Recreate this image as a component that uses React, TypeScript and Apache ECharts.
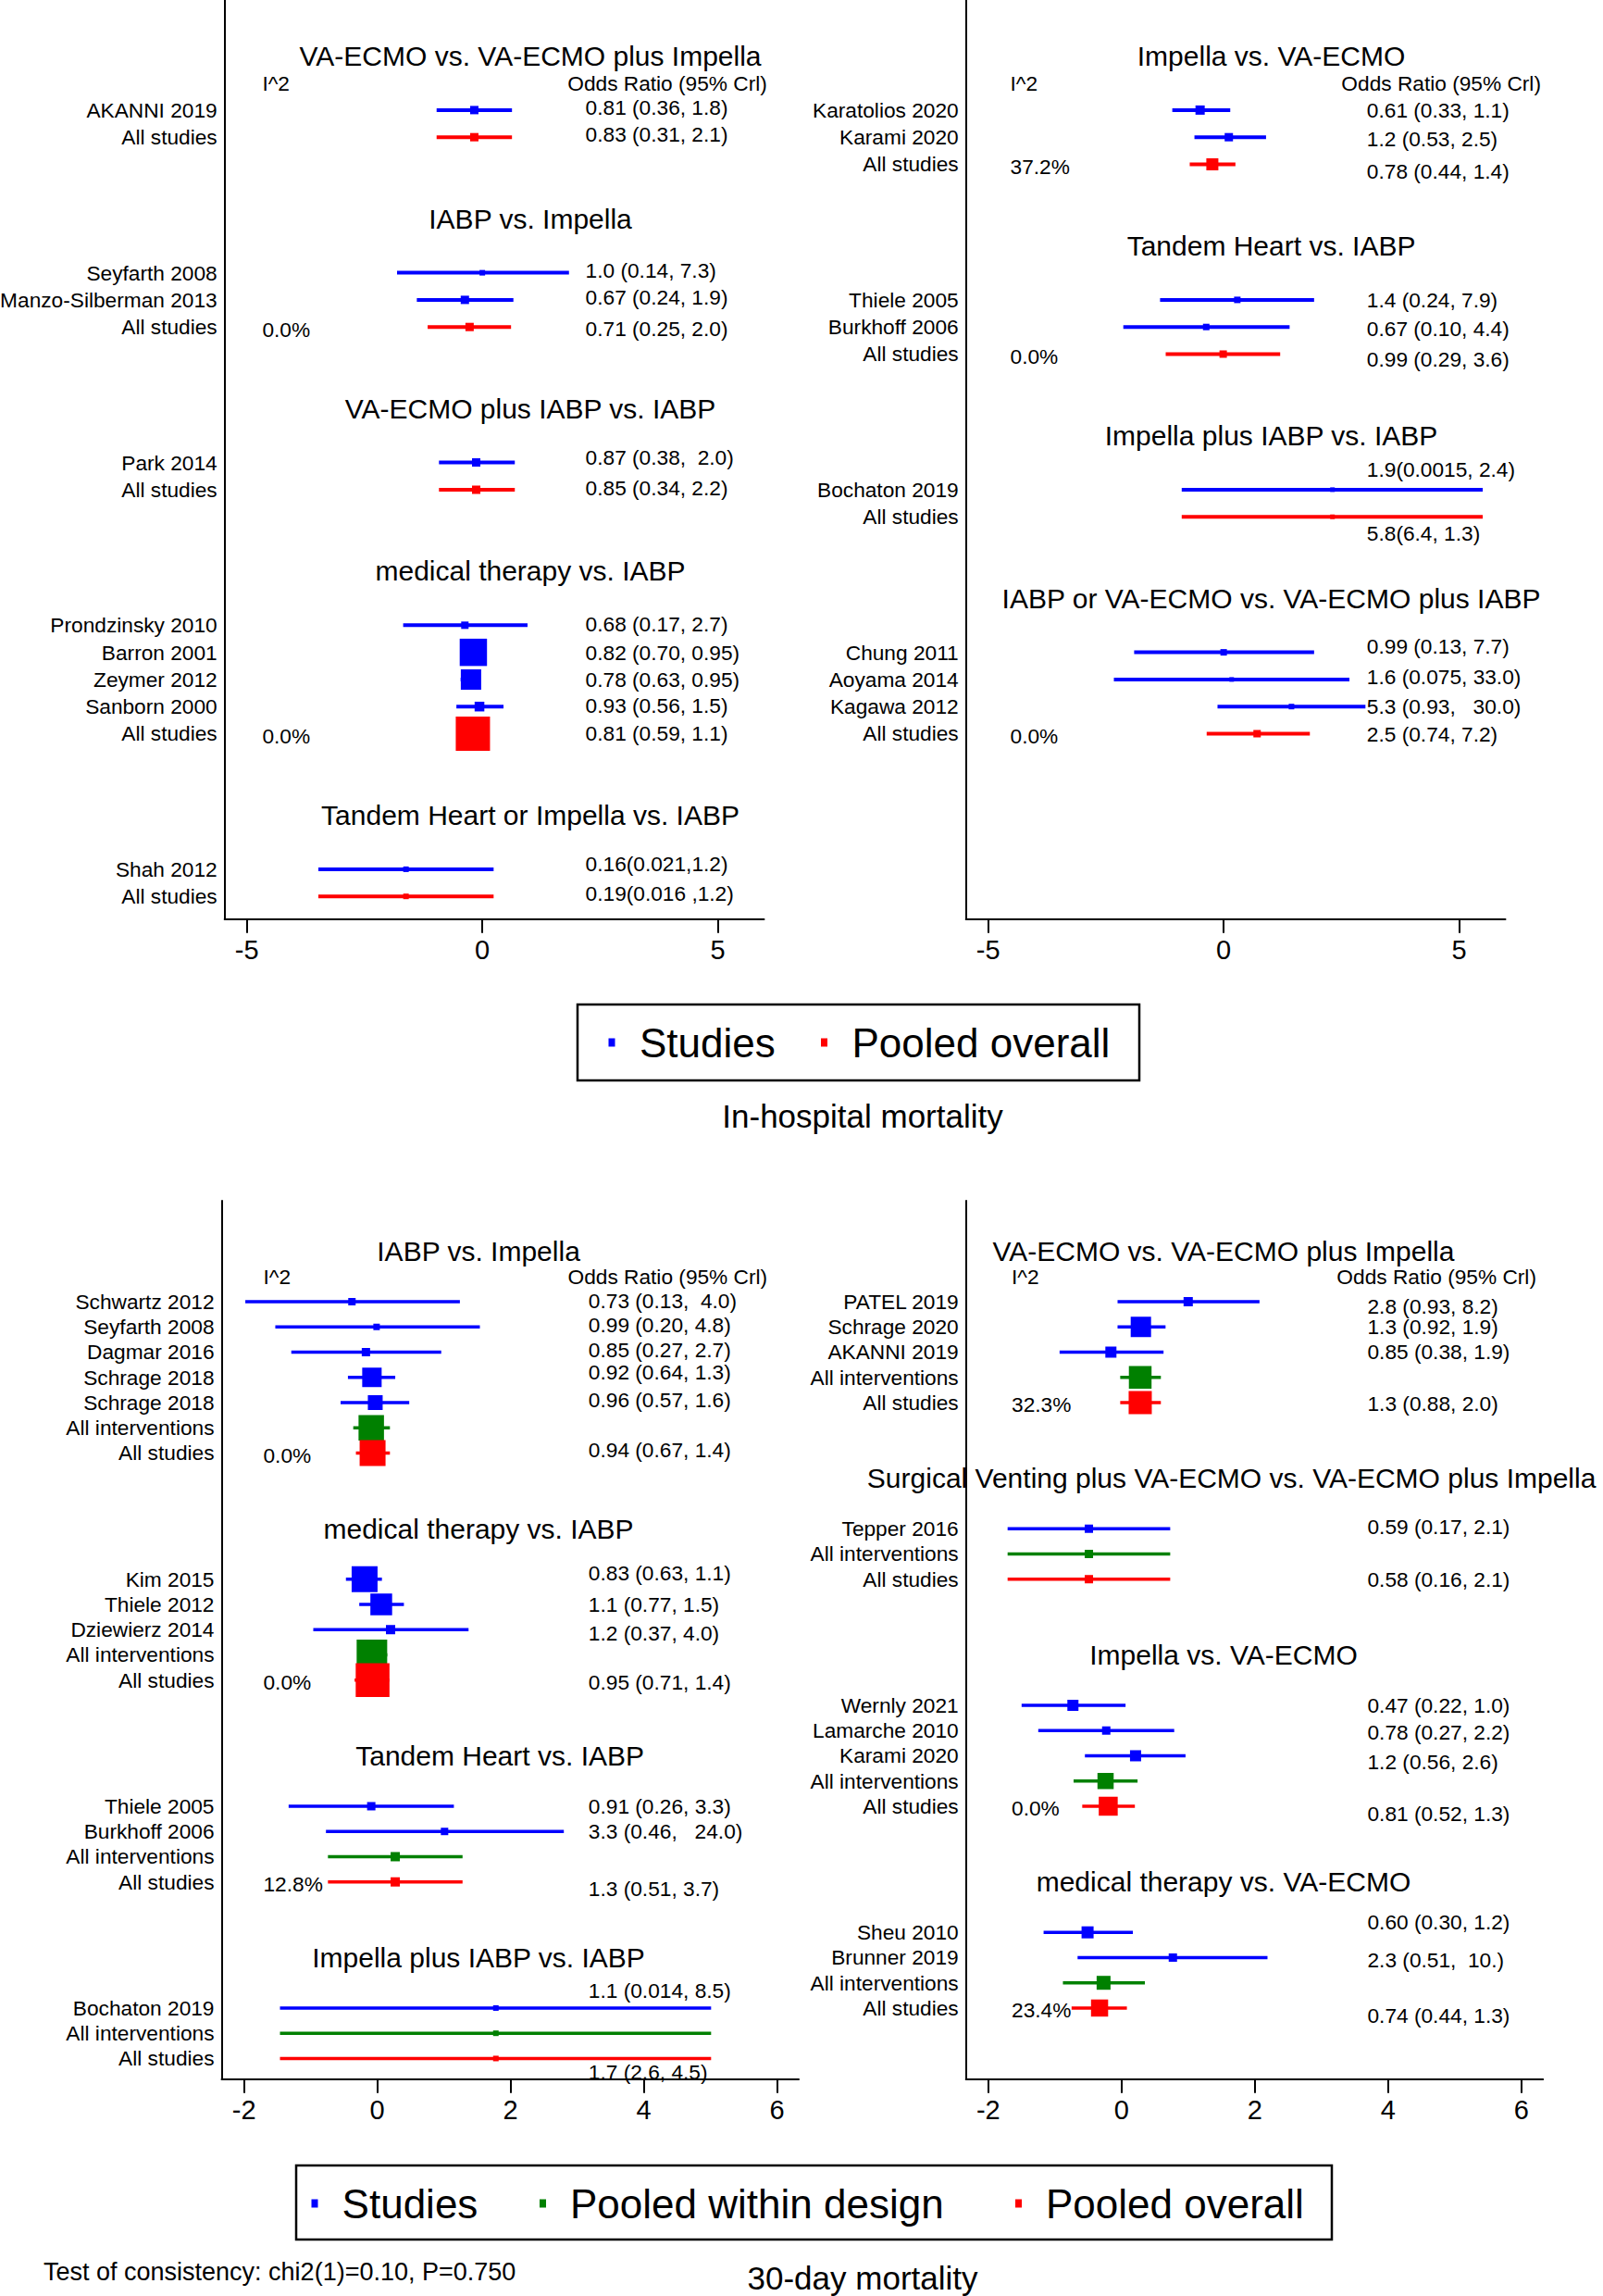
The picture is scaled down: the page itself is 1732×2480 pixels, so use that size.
import React, { useEffect, useRef } from "react";
import * as echarts from "echarts";

const FONT_FAMILY = "'Liberation Sans', Arial, Helvetica, sans-serif";
const KIND_COLOR: Record<string, string> = { S: "#0000ff", W: "#008000", O: "#ff0000" };
const BOX_UNIT = 1;

// ---------- In-hospital mortality, left panel ----------
const A_TITLES = [
  "VA-ECMO vs. VA-ECMO plus Impella",
  "IABP vs. Impella",
  "VA-ECMO plus IABP vs. IABP",
  "medical therapy vs. IABP",
  "Tandem Heart or Impella vs. IABP",
];
const A_TITLE_SLOTS = [0, 6, 13, 19, 28];
const A_TITLE_X = [1.02, 1.02, 1.02, 1.02, 1.02];
const A_LABELS = [
  "AKANNI 2019", "All studies",
  "Seyfarth 2008", "Manzo-Silberman 2013", "All studies",
  "Park 2014", "All studies",
  "Prondzinsky 2010", "Barron 2001", "Zeymer 2012", "Sanborn 2000", "All studies",
  "Shah 2012", "All studies",
];
const A_SLOTS = [2, 3, 8, 9, 10, 15, 16, 21, 22, 23, 24, 25, 30, 31];
const A_KIND = ["S", "O", "S", "S", "O", "S", "O", "S", "S", "S", "S", "O", "S", "O"];
const A_EST = [-0.17, -0.17, 0.0, -0.37, -0.27, -0.13, -0.13, -0.37, -0.19, -0.24, -0.06, -0.2, -1.62, -1.62];
const A_LO = [-0.97, -0.97, -1.81, -1.39, -1.16, -0.92, -0.92, -1.68, -0.36, -0.46, -0.55, -0.53, -3.48, -3.48];
const A_HI = [0.63, 0.63, 1.84, 0.66, 0.61, 0.69, 0.69, 0.96, -0.05, -0.05, 0.45, 0.1, 0.24, 0.24];
const A_WEIGHT = [9, 9, 6, 9, 9, 9, 9, 8, 29.5, 22, 10.5, 37, 6, 6];
const A_OR = [
  "0.81 (0.36, 1.8)", "0.83 (0.31, 2.1)",
  "1.0 (0.14, 7.3)", "0.67 (0.24, 1.9)", "0.71 (0.25, 2.0)",
  "0.87 (0.38,  2.0)", "0.85 (0.34, 2.2)",
  "0.68 (0.17, 2.7)", "0.82 (0.70, 0.95)", "0.78 (0.63, 0.95)", "0.93 (0.56, 1.5)", "0.81 (0.59, 1.1)",
  "0.16(0.021,1.2)", "0.19(0.016 ,1.2)",
];
const A_OR_SLOT = [1.9, 2.9, 7.9, 8.9, 10.05, 14.8, 15.95, 20.95, 22, 23, 23.95, 25, 29.8, 30.9];
const A_I2 = ["", "", "", "", "0.0%", "", "", "", "", "", "", "0.0%", "", ""];

// ---------- In-hospital mortality, right panel ----------
const B_TITLES = [
  "Impella vs. VA-ECMO",
  "Tandem Heart vs. IABP",
  "Impella plus IABP vs. IABP",
  "IABP or VA-ECMO vs. VA-ECMO plus IABP",
];
const B_TITLE_SLOTS = [0, 7, 14, 20];
const B_TITLE_X = [1.01, 1.01, 1.01, 1.01];
const B_LABELS = [
  "Karatolios 2020", "Karami 2020", "All studies",
  "Thiele 2005", "Burkhoff 2006", "All studies",
  "Bochaton 2019", "All studies",
  "Chung 2011", "Aoyama 2014", "Kagawa 2012", "All studies",
];
const B_SLOTS = [2, 3, 4, 9, 10, 11, 16, 17, 22, 23, 24, 25];
const B_KIND = ["S", "S", "O", "S", "S", "O", "S", "O", "S", "S", "S", "O"];
const B_EST = [-0.5, 0.11, -0.24, 0.29, -0.37, -0.01, 2.31, 2.31, 0.0, 0.17, 1.44, 0.71];
const B_LO = [-1.09, -0.62, -0.72, -1.35, -2.13, -1.23, -0.89, -0.89, -1.9, -2.33, -0.13, -0.36];
const B_HI = [0.14, 0.9, 0.25, 1.92, 1.4, 1.2, 5.5, 5.5, 1.92, 2.67, 3.01, 1.83];
const B_WEIGHT = [10, 9, 13, 7, 7, 8, 5, 5, 7, 5, 6, 8];
const B_OR = [
  "0.61 (0.33, 1.1)", "1.2 (0.53, 2.5)", "0.78 (0.44, 1.4)",
  "1.4 (0.24, 7.9)", "0.67 (0.10, 4.4)", "0.99 (0.29, 3.6)",
  "1.9(0.0015, 2.4)", "5.8(6.4, 1.3)",
  "0.99 (0.13, 7.7)", "1.6 (0.075, 33.0)", "5.3 (0.93,   30.0)", "2.5 (0.74, 7.2)",
];
const B_OR_SLOT = [2, 3.05, 4.25, 9, 10.05, 11.18, 15.25, 17.6, 21.76, 22.9, 24, 25.03];
const B_I2 = ["", "", "37.2%", "", "", "0.0%", "", "", "", "", "", "0.0%"];

// ---------- 30-day mortality, left panel ----------
const C_TITLES = [
  "IABP vs. Impella",
  "medical therapy vs. IABP",
  "Tandem Heart vs. IABP",
  "Impella plus IABP vs. IABP",
];
const C_TITLE_SLOTS = [0, 11, 20, 28];
const C_TITLE_X = [1.52, 1.52, 1.84, 1.52];
const C_LABELS = [
  "Schwartz 2012", "Seyfarth 2008", "Dagmar 2016", "Schrage 2018", "Schrage 2018", "All interventions", "All studies",
  "Kim 2015", "Thiele 2012", "Dziewierz 2014", "All interventions", "All studies",
  "Thiele 2005", "Burkhoff 2006", "All interventions", "All studies",
  "Bochaton 2019", "All interventions", "All studies",
];
const C_SLOTS = [2, 3, 4, 5, 6, 7, 8, 13, 14, 15, 16, 17, 22, 23, 24, 25, 30, 31, 32];
const C_KIND = ["S", "S", "S", "S", "S", "W", "O", "S", "S", "S", "W", "O", "S", "S", "W", "O", "S", "W", "O"];
const C_EST = [-0.38, -0.01, -0.17, -0.08, -0.03, -0.09, -0.07, -0.19, 0.06, 0.2, -0.08, -0.07, -0.09, 1.01, 0.27, 0.27, 1.78, 1.78, 1.78];
const C_LO = [-1.98, -1.53, -1.29, -0.44, -0.55, -0.36, -0.32, -0.47, -0.27, -0.96, -0.3, -0.34, -1.33, -0.77, -0.74, -0.74, -1.46, -1.46, -1.46];
const C_HI = [1.24, 1.54, 0.96, 0.27, 0.48, 0.19, 0.19, 0.07, 0.4, 1.37, 0.15, 0.18, 1.15, 2.8, 1.28, 1.28, 5.01, 5.01, 5.01];
const C_WEIGHT = [8, 7, 9, 21, 16, 27.5, 28, 28, 23.5, 10, 33, 36.5, 9, 8, 10, 10, 6, 6, 6];
const C_OR = [
  "0.73 (0.13,  4.0)", "0.99 (0.20, 4.8)", "0.85 (0.27, 2.7)", "0.92 (0.64, 1.3)", "0.96 (0.57, 1.6)", "", "0.94 (0.67, 1.4)",
  "0.83 (0.63, 1.1)", "1.1 (0.77, 1.5)", "1.2 (0.37, 4.0)", "", "0.95 (0.71, 1.4)",
  "0.91 (0.26, 3.3)", "3.3 (0.46,   24.0)", "", "1.3 (0.51, 3.7)",
  "1.1 (0.014, 8.5)", "", "1.7 (2.6, 4.5)",
];
const C_OR_SLOT = [1.95, 2.9, 3.9, 4.8, 5.9, 7, 7.87, 12.75, 14, 15.15, 16, 17.1, 22, 23, 24, 25.27, 29.3, 31, 32.55];
const C_I2 = ["", "", "", "", "", "", "0.0%", "", "", "", "", "0.0%", "", "", "", "12.8%", "", "", ""];

// ---------- 30-day mortality, right panel ----------
const D_TITLES = [
  "VA-ECMO vs. VA-ECMO plus Impella",
  "Surgical Venting plus VA-ECMO vs. VA-ECMO plus Impella",
  "Impella vs. VA-ECMO",
  "medical therapy vs. VA-ECMO",
];
const D_TITLE_SLOTS = [0, 9, 16, 25];
const D_TITLE_X = [1.53, 1.65, 1.53, 1.53];
const D_LABELS = [
  "PATEL 2019", "Schrage 2020", "AKANNI 2019", "All interventions", "All studies",
  "Tepper 2016", "All interventions", "All studies",
  "Wernly 2021", "Lamarche 2010", "Karami 2020", "All interventions", "All studies",
  "Sheu 2010", "Brunner 2019", "All interventions", "All studies",
];
const D_SLOTS = [2, 3, 4, 5, 6, 11, 12, 13, 18, 19, 20, 21, 22, 27, 28, 29, 30];
const D_KIND = ["S", "S", "S", "W", "O", "S", "W", "O", "S", "S", "S", "W", "O", "S", "S", "W", "O"];
const D_EST = [1.0, 0.29, -0.16, 0.28, 0.28, -0.49, -0.49, -0.49, -0.73, -0.23, 0.21, -0.24, -0.2, -0.51, 0.77, -0.27, -0.33];
const D_LO = [-0.06, -0.06, -0.93, -0.02, -0.02, -1.71, -1.71, -1.71, -1.5, -1.25, -0.55, -0.72, -0.59, -1.17, -0.66, -0.88, -0.75];
const D_HI = [2.07, 0.66, 0.63, 0.59, 0.59, 0.73, 0.73, 0.73, 0.06, 0.79, 0.96, 0.24, 0.2, 0.17, 2.19, 0.35, 0.08];
const D_WEIGHT = [10, 22, 12, 24.5, 25, 9, 9, 9, 12, 9, 12, 17.5, 20.5, 13, 9, 15, 18.5];
const D_OR = [
  "2.8 (0.93, 8.2)", "1.3 (0.92, 1.9)", "0.85 (0.38, 1.9)", "", "1.3 (0.88, 2.0)",
  "0.59 (0.17, 2.1)", "", "0.58 (0.16, 2.1)",
  "0.47 (0.22, 1.0)", "0.78 (0.27, 2.2)", "1.2 (0.56, 2.6)", "", "0.81 (0.52, 1.3)",
  "0.60 (0.30, 1.2)", "2.3 (0.51,  10.)", "", "0.74 (0.44, 1.3)",
];
const D_OR_SLOT = [2.17, 3, 4, 5, 6.03, 10.9, 12, 13.02, 18, 19.08, 20.25, 21, 22.3, 26.6, 28.1, 29, 30.3];
const D_I2 = ["", "", "", "", "32.3%", "", "", "", "", "", "", "", "0.0%", "", "", "", "23.4%"];

const TOP_TICKS = [-5, 0, 5];
const BOTTOM_TICKS = [-2, 0, 2, 4, 6];
const HEADER_I2 = "I^2";
const HEADER_OR = "Odds Ratio (95% Crl)";

const PANELS = [
  {
    grid: { left: 242.7, top: 0, width: 582.8, height: 992.8 },
    xMin: -5.47, xMax: 5.98, ticks: TOP_TICKS, yMin: -2.06, yMax: 31.84, lw: 4,
    i2X: -4.67, orX: 2.19, oddsX: 1.81,
    titles: A_TITLES, titleSlots: A_TITLE_SLOTS, titleX: A_TITLE_X,
    labels: A_LABELS, slots: A_SLOTS, kind: A_KIND, est: A_EST, lo: A_LO, hi: A_HI,
    weight: A_WEIGHT, or: A_OR, orSlot: A_OR_SLOT, i2: A_I2,
  },
  {
    grid: { left: 1043.7, top: 0, width: 582.8, height: 992.8 },
    xMin: -5.47, xMax: 5.98, ticks: TOP_TICKS, yMin: -2.06, yMax: 31.84, lw: 4,
    i2X: -4.53, orX: 3.04, oddsX: 2.5,
    titles: B_TITLES, titleSlots: B_TITLE_SLOTS, titleX: B_TITLE_X,
    labels: B_LABELS, slots: B_SLOTS, kind: B_KIND, est: B_EST, lo: B_LO, hi: B_HI,
    weight: B_WEIGHT, or: B_OR, orSlot: B_OR_SLOT, i2: B_I2,
  },
  {
    grid: { left: 239.5, top: 1297, width: 623.5, height: 948.8 },
    xMin: -2.335, xMax: 6.325, ticks: BOTTOM_TICKS, yMin: -2.0, yMax: 32.82, lw: 3.5,
    i2X: -1.71, orX: 3.17, oddsX: 2.86,
    titles: C_TITLES, titleSlots: C_TITLE_SLOTS, titleX: C_TITLE_X,
    labels: C_LABELS, slots: C_SLOTS, kind: C_KIND, est: C_EST, lo: C_LO, hi: C_HI,
    weight: C_WEIGHT, or: C_OR, orSlot: C_OR_SLOT, i2: C_I2,
  },
  {
    grid: { left: 1043.7, top: 1297, width: 623.5, height: 948.8 },
    xMin: -2.335, xMax: 6.325, ticks: BOTTOM_TICKS, yMin: -2.0, yMax: 32.82, lw: 3.5,
    i2X: -1.65, orX: 3.69, oddsX: 3.23,
    titles: D_TITLES, titleSlots: D_TITLE_SLOTS, titleX: D_TITLE_X,
    labels: D_LABELS, slots: D_SLOTS, kind: D_KIND, est: D_EST, lo: D_LO, hi: D_HI,
    weight: D_WEIGHT, or: D_OR, orSlot: D_OR_SLOT, i2: D_I2,
  },
];

const font = (size: number) => `${size}px ${FONT_FAMILY}`;

function textStyle(text: string, size: number, align: string, vAlign = "middle") {
  return {
    text,
    fill: "#000",
    font: font(size),
    align,
    verticalAlign: vAlign,
    textAlign: align,
    textVerticalAlign: vAlign,
  };
}

function forestSeries(p: any, i: number) {
  return {
    type: "custom",
    coordinateSystem: "cartesian2d",
    xAxisIndex: i,
    yAxisIndex: i,
    silent: true,
    clip: false,
    data: p.labels.map((_: string, k: number) => [p.est[k], p.slots[k], p.lo[k], p.hi[k], p.weight[k], k]),
    encode: { x: [0, 2, 3], y: 1 },
    renderItem: (_params: any, api: any) => {
      const k = api.value(5);
      const slot = api.value(1);
      const c = api.coord([api.value(0), slot]);
      const a = api.coord([api.value(2), slot]);
      const b = api.coord([api.value(3), slot]);
      const s = api.value(4) * BOX_UNIT;
      const color = KIND_COLOR[p.kind[k]];
      return {
        type: "group",
        children: [
          { type: "line", shape: { x1: a[0], y1: a[1], x2: b[0], y2: b[1] }, style: { stroke: color, lineWidth: p.lw } },
          { type: "rect", shape: { x: c[0] - s / 2, y: c[1] - s / 2, width: s, height: s }, style: { fill: color } },
        ],
      };
    },
  };
}

function textSeries(p: any, i: number) {
  const items: any[] = [];
  p.titles.forEach((t: string, k: number) =>
    items.push({ x: p.titleX[k], y: p.titleSlots[k], text: t, size: 30, align: "center", dx: 0 })
  );
  items.push({ x: p.i2X, y: 1.0, text: HEADER_I2, size: 22.7, align: "left", dx: 0 });
  items.push({ x: p.oddsX, y: 1.0, text: HEADER_OR, size: 22.7, align: "left", dx: 0 });
  p.labels.forEach((t: string, k: number) =>
    items.push({ x: p.xMin, y: p.slots[k], text: t, size: 22.7, align: "right", dx: -8 })
  );
  p.or.forEach((t: string, k: number) => {
    if (t) items.push({ x: p.orX, y: p.orSlot[k], text: t, size: 22.7, align: "left", dx: 0 });
  });
  p.i2.forEach((t: string, k: number) => {
    if (t) items.push({ x: p.i2X, y: p.slots[k] + 0.08, text: t, size: 22.7, align: "left", dx: 0 });
  });
  return {
    type: "custom",
    coordinateSystem: "cartesian2d",
    xAxisIndex: i,
    yAxisIndex: i,
    silent: true,
    clip: false,
    data: items.map((t, k) => [t.x, t.y, k]),
    encode: { x: 0, y: 1 },
    renderItem: (_params: any, api: any) => {
      const t = items[api.value(2)];
      const pt = api.coord([api.value(0), api.value(1)]);
      return {
        type: "text",
        x: pt[0] + t.dx,
        y: pt[1],
        style: textStyle(t.text, t.size, t.align),
      };
    },
  };
}

function legendGraphics() {
  const g: any[] = [];
  // In-hospital legend
  g.push({ type: "rect", shape: { x: 624, y: 1085, width: 607, height: 82 }, style: { fill: "none", stroke: "#000", lineWidth: 2.5 } });
  g.push({ type: "rect", shape: { x: 657.5, y: 1121.5, width: 7, height: 9 }, style: { fill: KIND_COLOR.S } });
  g.push({ type: "text", x: 691, y: 1126, style: textStyle("Studies", 44, "left") });
  g.push({ type: "rect", shape: { x: 887, y: 1121.5, width: 7, height: 9 }, style: { fill: KIND_COLOR.O } });
  g.push({ type: "text", x: 920.5, y: 1126, style: textStyle("Pooled overall", 44, "left") });
  g.push({ type: "text", x: 932, y: 1205, style: textStyle("In-hospital mortality", 35, "center") });
  // 30-day legend
  g.push({ type: "rect", shape: { x: 320, y: 2339, width: 1119, height: 80 }, style: { fill: "none", stroke: "#000", lineWidth: 2.5 } });
  g.push({ type: "rect", shape: { x: 336.5, y: 2375.5, width: 7, height: 9 }, style: { fill: KIND_COLOR.S } });
  g.push({ type: "text", x: 369.6, y: 2380, style: textStyle("Studies", 44, "left") });
  g.push({ type: "rect", shape: { x: 583, y: 2375.5, width: 7, height: 9 }, style: { fill: KIND_COLOR.W } });
  g.push({ type: "text", x: 616, y: 2380, style: textStyle("Pooled within design", 44, "left") });
  g.push({ type: "rect", shape: { x: 1097, y: 2375.5, width: 7, height: 9 }, style: { fill: KIND_COLOR.O } });
  g.push({ type: "text", x: 1130, y: 2380, style: textStyle("Pooled overall", 44, "left") });
  g.push({ type: "text", x: 47, y: 2454, style: textStyle("Test of consistency: chi2(1)=0.10, P=0.750", 27, "left") });
  g.push({ type: "text", x: 932, y: 2460, style: textStyle("30-day mortality", 35, "center") });
  return g;
}

function buildOption() {
  const grid: any[] = [];
  const xAxis: any[] = [];
  const yAxis: any[] = [];
  const series: any[] = [];
  PANELS.forEach((p, i) => {
    grid.push({ ...p.grid, containLabel: false, outerBoundsMode: "none", show: false });
    xAxis.push({
      gridIndex: i,
      type: "value",
      min: p.xMin,
      max: p.xMax,
      position: "bottom",
      axisLine: { show: true, onZero: false, lineStyle: { color: "#000", width: 2 } },
      axisTick: { show: true, inside: false, length: 15, customValues: p.ticks, lineStyle: { color: "#000", width: 2 } },
      axisLabel: { show: true, customValues: p.ticks, color: "#000", fontSize: 29, fontFamily: FONT_FAMILY, margin: 19 },
      splitLine: { show: false },
    });
    yAxis.push({
      gridIndex: i,
      type: "value",
      min: p.yMin,
      max: p.yMax,
      inverse: true,
      position: "left",
      axisLine: { show: true, onZero: false, lineStyle: { color: "#000", width: 2 } },
      axisTick: { show: false },
      axisLabel: { show: false },
      splitLine: { show: false },
    });
    series.push(forestSeries(p, i));
    series.push(textSeries(p, i));
  });
  return {
    backgroundColor: "#ffffff",
    animation: false,
    grid,
    xAxis,
    yAxis,
    series,
    graphic: legendGraphics(),
  };
}

export default function App() {
  const ref = useRef<HTMLDivElement>(null);
  useEffect(() => {
    if (!ref.current) return;
    const chart = echarts.init(ref.current, null, { renderer: "svg" });
    chart.setOption(buildOption() as any);
    return () => chart.dispose();
  }, []);
  return (
    <div
      ref={ref}
      style={{ position: "absolute", left: 0, top: 0, width: 1732, height: 2480, background: "#fff" }}
    />
  );
}
